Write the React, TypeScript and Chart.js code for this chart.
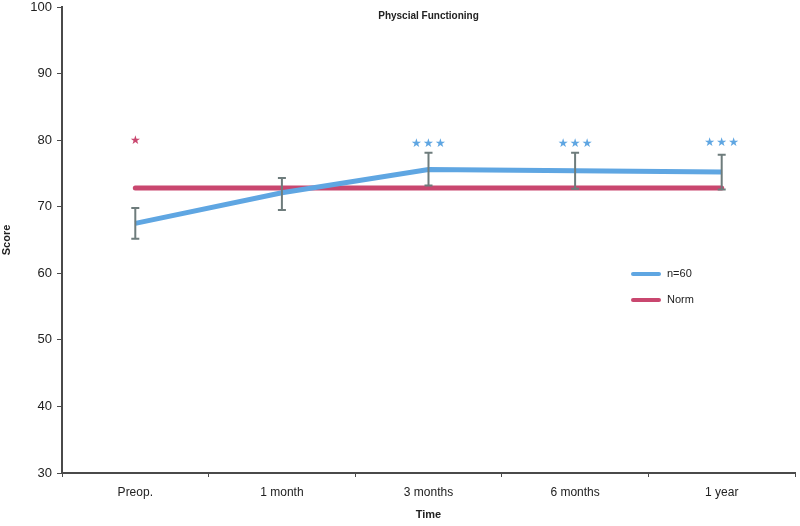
import React, { useEffect, useRef } from "react";
import { Chart, registerables } from "chart.js";

Chart.register(...registerables);

const categories = ["Preop.", "1 month", "3 months", "6 months", "1 year"];
const n60Values = [67.5, 72.1, 75.6, 75.4, 75.2];
const n60ErrHigh = [69.8, 74.3, 78.1, 78.1, 77.8];
const n60ErrLow = [65.2, 69.5, 73.2, 72.7, 72.6];
const normValues = [72.8, 72.8, 72.8, 72.8, 72.8];
const starCounts = [1, 0, 3, 3, 3];
const starValues = [79.9, 0, 79.4, 79.4, 79.6];
const starSeries = ["Norm", "", "n=60", "n=60", "n=60"];
const yTicks = [30, 40, 50, 60, 70, 80, 90, 100];

const BLUE = "#5fa6e2";
const PINK = "#c9476f";
const ERR = "#6e7c7c";
const AXIS = "#4a4a4a";

const overlayPlugin = {
  id: "overlay",
  afterDatasetsDraw(chart: any) {
    const { ctx, chartArea, scales } = chart;
    const x = scales.x;
    const y = scales.y;
    ctx.save();
    // error bars
    ctx.strokeStyle = ERR;
    ctx.lineWidth = 2;
    for (let i = 0; i < categories.length; i++) {
      const px = x.getPixelForValue(i);
      const top = y.getPixelForValue(n60ErrHigh[i]);
      const bot = y.getPixelForValue(n60ErrLow[i]);
      ctx.beginPath();
      ctx.moveTo(px, top);
      ctx.lineTo(px, bot);
      ctx.moveTo(px - 4, top);
      ctx.lineTo(px + 4, top);
      ctx.moveTo(px - 4, bot);
      ctx.lineTo(px + 4, bot);
      ctx.stroke();
    }
    // stars
    ctx.font = "12px 'DejaVu Sans'";
    ctx.textAlign = "center";
    ctx.textBaseline = "middle";
    for (let i = 0; i < categories.length; i++) {
      const n = starCounts[i];
      if (!n) continue;
      ctx.fillStyle = starSeries[i] === "Norm" ? PINK : BLUE;
      const px = x.getPixelForValue(i);
      const py = y.getPixelForValue(starValues[i]);
      for (let k = 0; k < n; k++) {
        ctx.fillText("★", px + (k - (n - 1) / 2) * 12, py);
      }
    }
    // title
    ctx.fillStyle = "#222";
    ctx.font = "bold 10px 'Liberation Sans'";
    ctx.fillText("Physcial Functioning", (chartArea.left + chartArea.right) / 2, 16);
    // legend
    const ds = chart.data.datasets;
    const legendY = [274, 300];
    ctx.textAlign = "left";
    ctx.font = "11px 'Liberation Sans'";
    ds.forEach((d: any, j: number) => {
      ctx.strokeStyle = d.borderColor;
      ctx.lineWidth = 4;
      ctx.lineCap = "round";
      ctx.beginPath();
      ctx.moveTo(633, legendY[j]);
      ctx.lineTo(659, legendY[j]);
      ctx.stroke();
      ctx.fillStyle = "#222";
      ctx.fillText(d.label, 667, legendY[j]);
    });
    ctx.restore();
  },
};

export default function App() {
  const ref = useRef<HTMLCanvasElement>(null);
  useEffect(() => {
    if (!ref.current) return;
    const chart = new Chart(ref.current, {
      type: "line",
      data: {
        labels: categories,
        datasets: [
          {
            label: "n=60",
            data: n60Values,
            borderColor: BLUE,
            backgroundColor: BLUE,
            borderWidth: 5,
            pointRadius: 0,
            tension: 0,
            order: 1,
          },
          {
            label: "Norm",
            data: normValues,
            borderColor: PINK,
            backgroundColor: PINK,
            borderWidth: 5,
            pointRadius: 0,
            borderCapStyle: "round",
            order: 2,
          },
        ],
      },
      options: {
        animation: false,
        responsive: true,
        maintainAspectRatio: false,
        layout: { padding: { top: 0, right: 5, left: 0, bottom: 0 } },
        plugins: {
          legend: { display: false },
          tooltip: { enabled: false },
          title: { display: false },
        },
        scales: {
          x: {
            type: "category",
            offset: true,
            grid: {
              drawOnChartArea: false,
              drawTicks: true,
              tickLength: 4,
              color: AXIS,
              offset: true,
            },
            border: { color: AXIS, width: 2 },
            ticks: {
              color: "#222",
              padding: 8,
              font: { family: "'Liberation Sans'", size: 12 },
            },
            title: {
              display: true,
              text: "Time",
              color: "#222",
              padding: { top: 0, bottom: 4 },
              font: { family: "'Liberation Sans'", size: 11, weight: "bold" },
            },
            afterFit(scale: any) {
              scale.height = 53;
              scale.paddingLeft = 0;
              scale.paddingRight = 0;
            },
          },
          y: {
            min: 30,
            max: 100,
            afterBuildTicks(scale: any) {
              scale.ticks = yTicks.map((v) => ({ value: v }));
            },
            grid: {
              drawOnChartArea: false,
              drawTicks: true,
              tickLength: 5,
              color: AXIS,
            },
            border: { color: AXIS, width: 2 },
            ticks: {
              color: "#222",
              padding: 5,
              font: { family: "'Liberation Sans'", size: 13 },
            },
            title: {
              display: true,
              text: "Score",
              color: "#222",
              padding: { top: 0, bottom: 0 },
              font: { family: "'Liberation Sans'", size: 11, weight: "bold" },
            },
            afterFit(scale: any) {
              scale.width = 62;
              scale.paddingTop = 7;
              scale.paddingBottom = 0;
            },
          },
        },
      },
      plugins: [overlayPlugin],
    });
    return () => chart.destroy();
  }, []);
  return (
    <div style={{ position: "fixed", left: 0, top: 0, width: 800, height: 526, background: "#fff" }}>
      <canvas ref={ref} />
    </div>
  );
}
